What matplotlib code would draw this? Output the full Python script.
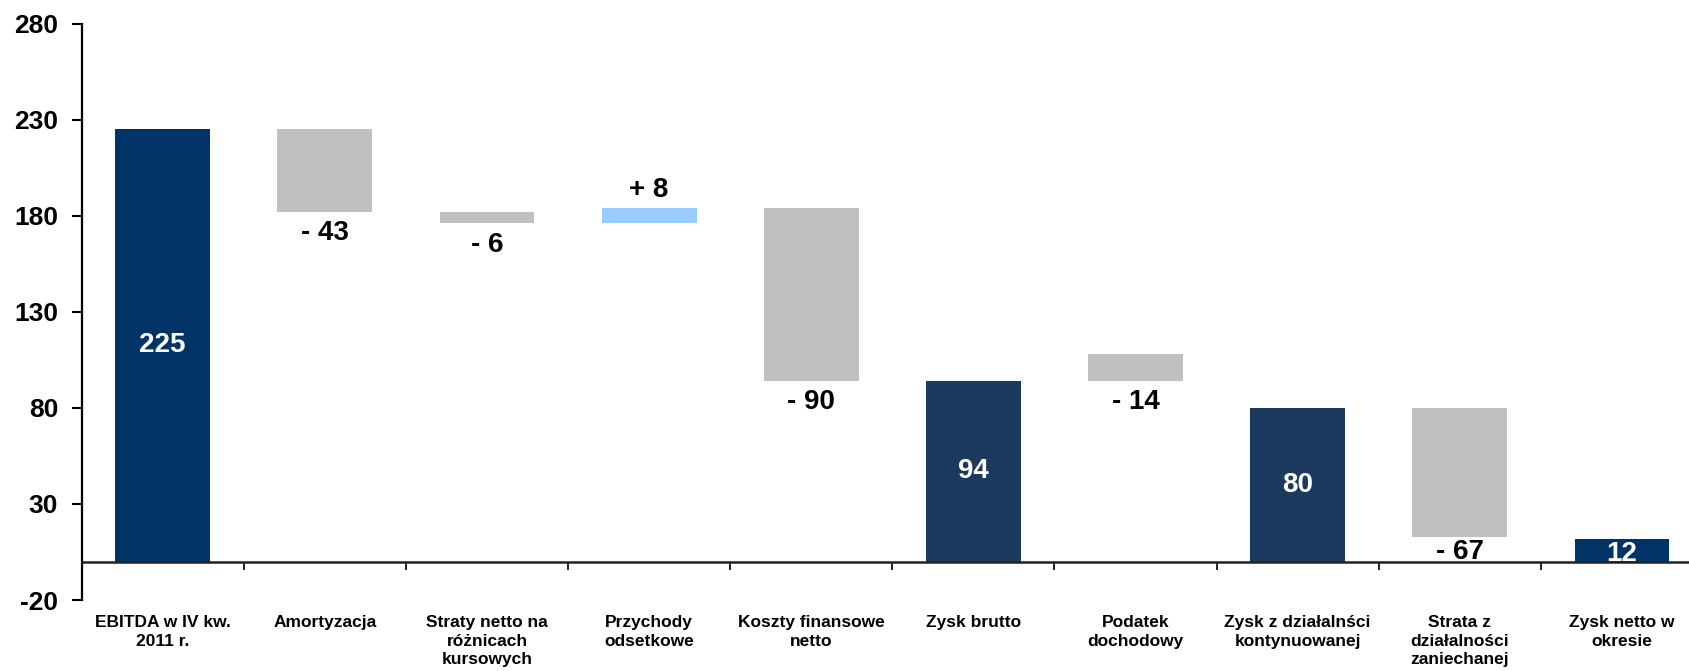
import matplotlib.pyplot as plt
import matplotlib.transforms as mtransforms

categories = ["EBITDA w IV kw.\n2011 r.", "Amortyzacja", "Straty netto na\nróżnicach\nkursowych",
              "Przychody\nodsetkowe", "Koszty finansowe\nnetto", "Zysk brutto",
              "Podatek\ndochodowy", "Zysk z działalnści\nkontynuowanej",
              "Strata z\ndziałalności\nzaniechanej", "Zysk netto w\nokresie"]
values = [225, -43, -6, 8, -90, 94, -14, 80, -67, 12]
labels = ["225", "- 43", "- 6", "+ 8", "- 90", "94", "- 14", "80", "- 67", "12"]
# bars as drawn in the original (floating segments)
bar_bottom = [0, 182, 176, 176, 94, 0, 94, 0, 13, 0]
bar_top = [225, 225, 182, 184, 184, 94, 108, 80, 80, 12]
kind = ["total", "change", "change", "change", "change", "total", "change", "total", "change", "total"]

colors = ["#003366", "#C0C0C0", "#C0C0C0", "#99CCFF", "#C0C0C0",
          "#1C3A5E", "#C0C0C0", "#1C3A5E", "#C0C0C0", "#003366"]

plt.rcParams['font.family'] = ['Liberation Sans', 'DejaVu Sans']
plt.rcParams['font.weight'] = 'bold'
plt.rcParams['axes.unicode_minus'] = False

fig = plt.figure(figsize=(16.9, 6.71), dpi=100)
ax = fig.add_axes([0.0483, 0.1058, 0.9594, 0.8589])

x = list(range(len(values)))
heights = [t - b for t, b in zip(bar_top, bar_bottom)]
ax.bar(x, heights, bottom=bar_bottom, width=0.585, color=colors, zorder=2)

ax.set_xlim(-0.5, 9.5)
ax.set_ylim(-20, 280)
ax.set_yticks([-20, 30, 80, 130, 180, 230, 280])
ax.tick_params(axis='y', labelsize=19, length=7, width=1.5, pad=10)
for t in ax.get_yticklabels():
    t.set_fontweight('bold')

ax.spines['top'].set_visible(False)
ax.spines['right'].set_visible(False)
ax.spines['left'].set_linewidth(1.6)
ax.spines['bottom'].set_position(('data', 0))
ax.spines['bottom'].set_linewidth(1.8)
ax.spines['bottom'].set_color('#222222')
ax.set_xticks([i + 0.5 for i in range(9)])
ax.set_xticklabels([])
ax.tick_params(axis='x', length=6, width=1.2, direction='out')

trans = mtransforms.blended_transform_factory(ax.transData, ax.transAxes)
for i, c in enumerate(categories):
    ax.text(i, -0.026, c, transform=trans, ha='center', va='top',
            fontsize=12.5, fontweight='bold', linespacing=1.3)

for i in x:
    if kind[i] == "total":
        mid = (bar_bottom[i] + bar_top[i]) / 2 if bar_top[i] > 30 else 4
        ax.text(i, mid, labels[i], ha='center', va='center', color='white',
                fontsize=20, fontweight='bold', zorder=3)
    elif values[i] > 0:
        ax.annotate(labels[i], (i, bar_top[i]), xytext=(0, 4), textcoords='offset points',
                    ha='center', va='bottom', fontsize=20, fontweight='bold')
    else:
        off = -1.5 if i == 8 else -6
        ax.annotate(labels[i], (i, bar_bottom[i]), xytext=(0, off), textcoords='offset points',
                    ha='center', va='top', fontsize=20, fontweight='bold')

fig.savefig("out.png", dpi=100)
